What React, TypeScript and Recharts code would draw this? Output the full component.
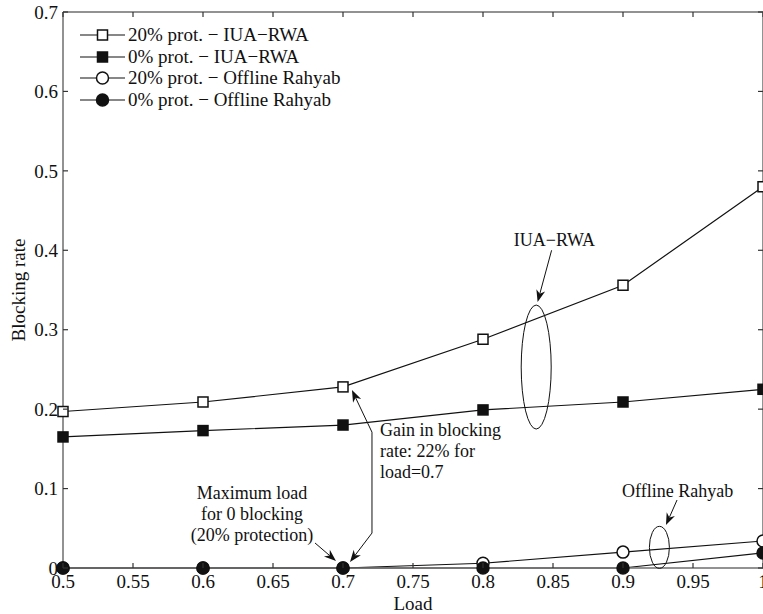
import React from 'react';
import { ComposedChart, Line, Scatter, XAxis, YAxis, ReferenceDot, ReferenceLine } from 'recharts';

const loads = [0.5, 0.6, 0.7, 0.8, 0.9, 1.0];
const iuaRwa20 = [0.197, 0.209, 0.228, 0.288, 0.356, 0.48];
const iuaRwa0 = [0.165, 0.173, 0.18, 0.199, 0.209, 0.225];
const rahyab20 = [0, 0, 0, 0.006, 0.02, 0.034];
const rahyab0 = [0, 0, 0, 0, 0, 0.019];

const xTicks = [0.5, 0.55, 0.6, 0.65, 0.7, 0.75, 0.8, 0.85, 0.9, 0.95, 1];
const yTicks = [0, 0.1, 0.2, 0.3, 0.4, 0.5, 0.6, 0.7];

const seriesNames = [
  '20% prot. \u2212 IUA\u2212RWA',
  '0% prot. \u2212 IUA\u2212RWA',
  '20% prot. \u2212 Offline Rahyab',
  '0% prot. \u2212 Offline Rahyab',
];

const rows = loads.map((load, i) => ({
  load,
  iua20: iuaRwa20[i],
  iua0: iuaRwa0[i],
  rah20: rahyab20[i],
  rah0: rahyab0[i],
}));

// anchor points for the inward tick marks on each side of the box
const bottomTicks = xTicks.map((t) => ({ load: t, v: 0 }));
const topTicks = xTicks.map((t) => ({ load: t, v: 0.7 }));
const leftTicks = yTicks.map((t) => ({ load: 0.5, v: t }));
const rightTicks = yTicks.map((t) => ({ load: 1, v: t }));

const FONT = '"Liberation Serif", "Times New Roman", "DejaVu Serif", serif';
const INK = '#111';
const AXIS = '#6e6e6e';
const TICK_LEN = 5;

type Kind = 'square' | 'circle';

const Marker = ({ kind, filled, cx, cy }: { kind: Kind; filled: boolean; cx: number; cy: number }) =>
  kind === 'square' ? (
    <rect x={cx - 5} y={cy - 5} width={10} height={10} fill={filled ? INK : '#fff'} stroke={INK} strokeWidth={1.5} />
  ) : (
    <circle cx={cx} cy={cy} r={6} fill={filled ? INK : '#fff'} stroke={INK} strokeWidth={1.5} />
  );

const dotRenderer = (kind: Kind, filled: boolean) => (props: any) => {
  const { cx, cy, index } = props;
  if (cx == null || cy == null) return <g key={index} />;
  return (
    <g key={index}>
      <Marker kind={kind} filled={filled} cx={cx} cy={cy} />
    </g>
  );
};

// short inward tick mark (dx, dy = direction into the plot)
const tickMark = (dx: number, dy: number) => (p: any) => (
  <g>
    <line
      x1={p.cx}
      y1={p.cy}
      x2={p.cx + dx * TICK_LEN}
      y2={p.cy + dy * TICK_LEN}
      stroke="#333"
      strokeWidth={1.2}
    />
  </g>
);

// line with a filled arrow head at (x2, y2)
const arrowShape = (head: boolean) => (p: any) => {
  const { x1, y1, x2, y2 } = p;
  const a = Math.atan2(y2 - y1, x2 - x1);
  const L = 12;
  const W = 4.5;
  const c = Math.cos(a);
  const s = Math.sin(a);
  const bx = x2 - L * c;
  const by = y2 - L * s;
  const nx = x2 - 0.7 * L * c;
  const ny = y2 - 0.7 * L * s;
  return (
    <g>
      <line x1={x1} y1={y1} x2={head ? nx : x2} y2={head ? ny : y2} stroke={INK} strokeWidth={1} />
      {head && (
        <path
          d={`M${x2},${y2} L${bx - W * s},${by + W * c} L${nx},${ny} L${bx + W * s},${by - W * c} Z`}
          fill={INK}
        />
      )}
    </g>
  );
};

const ellipseShape = (rx: number, ry: number) => (p: any) => (
  <ellipse cx={p.cx} cy={p.cy} rx={rx} ry={ry} fill="none" stroke={INK} strokeWidth={1} />
);

const textShape = (lines: string[], anchor: 'start' | 'middle') => (p: any) => (
  <text x={p.cx} y={p.cy} textAnchor={anchor} fontFamily={FONT} fontSize={18} fill={INK} dominantBaseline="central">
    {lines.map((l, i) => (
      <tspan key={i} x={p.cx} dy={i === 0 ? 0 : 21}>
        {l}
      </tspan>
    ))}
  </text>
);

const Legend = () => (
  <div style={{ position: 'absolute', left: 79, top: 24, fontFamily: FONT, fontSize: 19, color: INK }}>
    {seriesNames.map((name, i) => (
      <div key={name} style={{ display: 'flex', alignItems: 'center', height: 21.7, whiteSpace: 'nowrap' }}>
        <svg width={47} height={16} style={{ display: 'block' }}>
          <line x1={1} y1={8} x2={46} y2={8} stroke={INK} strokeWidth={1.2} />
          <Marker kind={i < 2 ? 'square' : 'circle'} filled={i % 2 === 1} cx={23.5} cy={8} />
        </svg>
        <span style={{ marginLeft: 2 }}>{name}</span>
      </div>
    ))}
  </div>
);

const tickStyle = { fontFamily: FONT, fontSize: 19, fill: INK };

export default function App() {
  return (
    <div style={{ position: 'fixed', left: 0, top: 0, width: 763, height: 614, overflow: 'hidden', background: '#fff' }}>
      <ComposedChart width={790} height={614} data={rows} margin={{ top: 12, right: 27, bottom: 0, left: 0 }}>
        <XAxis
          dataKey="load"
          type="number"
          domain={[0.5, 1]}
          ticks={xTicks}
          interval={0}
          height={46}
          tickSize={0}
          tickMargin={7}
          tickLine={false}
          tick={tickStyle}
          stroke={AXIS}
          strokeWidth={1.5}
          label={{
            content: (p: any) => (
              <text
                x={p.viewBox.x + p.viewBox.width / 2}
                y={p.viewBox.y + 35}
                textAnchor="middle"
                dominantBaseline="central"
                fontFamily={FONT}
                fontSize={19}
                fill={INK}
              >
                Load
              </text>
            ),
          }}
        />
        <YAxis
          type="number"
          domain={[0, 0.7]}
          ticks={yTicks}
          interval={0}
          width={63}
          tickSize={0}
          tickMargin={5}
          tickLine={false}
          tick={tickStyle}
          stroke={AXIS}
          strokeWidth={1.5}
          label={{
            content: (p: any) => {
              const x = p.viewBox.x + 18;
              const y = p.viewBox.y + p.viewBox.height / 2;
              return (
                <text
                  x={x}
                  y={y}
                  transform={`rotate(-90 ${x} ${y})`}
                  textAnchor="middle"
                  dominantBaseline="central"
                  fontFamily={FONT}
                  fontSize={19}
                  fill={INK}
                >
                  Blocking rate
                </text>
              );
            },
          }}
        />

        {/* box: top and right edges */}
        <ReferenceLine y={0.7} stroke={AXIS} strokeWidth={1.5} ifOverflow="visible" />
        <ReferenceLine x={1} stroke={AXIS} strokeWidth={1.5} ifOverflow="visible" />

        <Line dataKey="iua20" stroke={INK} strokeWidth={1.2} dot={dotRenderer('square', false)} isAnimationActive={false} />
        <Line dataKey="iua0" stroke={INK} strokeWidth={1.2} dot={dotRenderer('square', true)} isAnimationActive={false} />
        <Line dataKey="rah20" stroke={INK} strokeWidth={1.2} dot={dotRenderer('circle', false)} isAnimationActive={false} />
        <Line dataKey="rah0" stroke={INK} strokeWidth={1.2} dot={dotRenderer('circle', true)} isAnimationActive={false} />

        {/* inward tick marks on all four sides */}
        <Scatter data={bottomTicks} dataKey="v" shape={tickMark(0, -1)} isAnimationActive={false} legendType="none" />
        <Scatter data={topTicks} dataKey="v" shape={tickMark(0, 1)} isAnimationActive={false} legendType="none" />
        <Scatter data={leftTicks} dataKey="v" shape={tickMark(1, 0)} isAnimationActive={false} legendType="none" />
        <Scatter data={rightTicks} dataKey="v" shape={tickMark(-1, 0)} isAnimationActive={false} legendType="none" />

        {/* IUA-RWA callout */}
        <ReferenceDot x={0.851} y={0.413} shape={textShape(['IUA\u2212RWA'], 'middle')} ifOverflow="visible" />
        <ReferenceLine segment={[{ x: 0.849, y: 0.4 }, { x: 0.839, y: 0.335 }]} shape={arrowShape(true)} ifOverflow="visible" />
        <ReferenceDot x={0.838} y={0.253} shape={ellipseShape(15, 62)} ifOverflow="visible" />

        {/* Offline Rahyab callout */}
        <ReferenceDot x={0.939} y={0.097} shape={textShape(['Offline Rahyab'], 'middle')} ifOverflow="visible" />
        <ReferenceLine segment={[{ x: 0.9386, y: 0.0856 }, { x: 0.9307, y: 0.054 }]} shape={arrowShape(true)} ifOverflow="visible" />
        <ReferenceDot x={0.926} y={0.026} shape={ellipseShape(10, 21)} ifOverflow="visible" />

        {/* gain callout */}
        <ReferenceDot x={0.7264} y={0.1737} shape={textShape(['Gain in blocking', 'rate: 22% for', 'load=0.7'], 'start')} ifOverflow="visible" />
        <ReferenceLine segment={[{ x: 0.7207, y: 0.171 }, { x: 0.7064, y: 0.224 }]} shape={arrowShape(true)} ifOverflow="visible" />
        <ReferenceLine segment={[{ x: 0.7207, y: 0.171 }, { x: 0.7207, y: 0.044 }]} shape={arrowShape(false)} ifOverflow="visible" />
        <ReferenceLine segment={[{ x: 0.7207, y: 0.044 }, { x: 0.705, y: 0.0076 }]} shape={arrowShape(true)} ifOverflow="visible" />

        {/* max load callout */}
        <ReferenceDot
          x={0.635}
          y={0.0944}
          shape={textShape(['Maximum load', 'for 0 blocking', '(20% protection)'], 'middle')}
          ifOverflow="visible"
        />
        <ReferenceLine segment={[{ x: 0.68, y: 0.0315 }, { x: 0.695, y: 0.0088 }]} shape={arrowShape(true)} ifOverflow="visible" />
      </ComposedChart>
      <Legend />
    </div>
  );
}
